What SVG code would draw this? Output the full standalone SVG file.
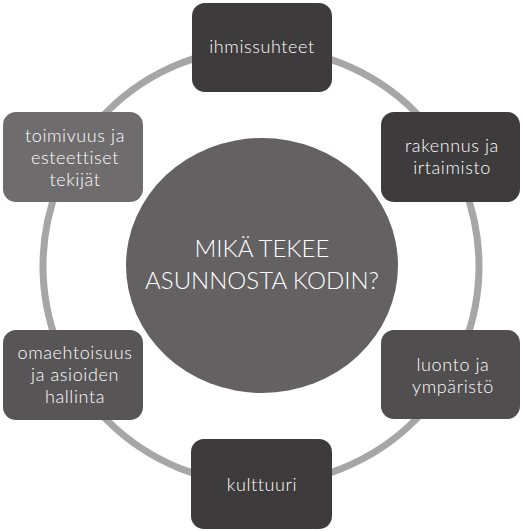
<svg xmlns="http://www.w3.org/2000/svg" width="522" height="531" viewBox="0 0 522 531">
  <style>
    .node text, .center text { font-family: Lato, "Open Sans", "Liberation Sans", sans-serif; font-weight: 300; fill: #ffffff; text-anchor: middle; }
    .node text { font-size: 18px; letter-spacing: 0.6px; }
    .center text { font-size: 24px; }
    .ring { fill: none; stroke: #a6a6a6; stroke-width: 7; }
  </style>
  <rect width="522" height="531" fill="#ffffff"/>
  <g id="connectors">
    <circle class="ring" cx="261" cy="266" r="218"/>
  </g>
  <g id="center" class="center">
    <ellipse cx="262" cy="265.5" rx="136" ry="127.5" fill="#636162"/>
    <text x="262" y="257">MIKÄ TEKEE</text>
    <text x="262" y="289">ASUNNOSTA KODIN?</text>
  </g>
  <g id="node-ihmissuhteet" class="node">
    <rect x="192" y="3" width="140" height="89" rx="13" fill="#3d3b3c"/>
    <text x="262" y="53">ihmissuhteet</text>
  </g>
  <g id="node-rakennus" class="node">
    <rect x="381" y="112" width="139" height="90" rx="13" fill="#3d3b3c"/>
    <text x="452" y="152">rakennus ja</text>
    <text x="452" y="174">irtaimisto</text>
  </g>
  <g id="node-luonto" class="node">
    <rect x="381" y="330" width="139" height="89" rx="13" fill="#504e4f"/>
    <text x="453" y="371">luonto ja</text>
    <text x="453" y="393">ympäristö</text>
  </g>
  <g id="node-kulttuuri" class="node">
    <rect x="191" y="439" width="141" height="90" rx="13" fill="#3d3b3c"/>
    <text x="262" y="491">kulttuuri</text>
  </g>
  <g id="node-omaehtoisuus" class="node">
    <rect x="3" y="330" width="140" height="90" rx="13" fill="#575556"/>
    <text x="75" y="359">omaehtoisuus</text>
    <text x="75" y="381">ja asioiden</text>
    <text x="75" y="403">hallinta</text>
  </g>
  <g id="node-toimivuus" class="node">
    <rect x="3" y="112" width="140" height="90" rx="13" fill="#6e6c6d"/>
    <text x="75" y="142">toimivuus ja</text>
    <text x="75" y="164">esteettiset</text>
    <text x="75" y="186">tekijät</text>
  </g>
</svg>
